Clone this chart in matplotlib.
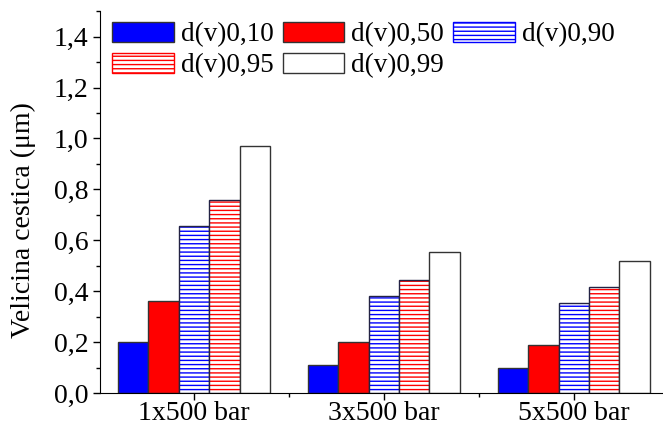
import numpy as np
import matplotlib
matplotlib.use("Agg")
import matplotlib.pyplot as plt
from matplotlib.ticker import FuncFormatter, MultipleLocator, FixedLocator

plt.rcParams['font.family'] = ['Liberation Serif', 'DejaVu Serif']
plt.rcParams['hatch.linewidth'] = 1.0

# data
groups = ['1x500 bar', '3x500 bar', '5x500 bar']
labels = ['d(v)0,10', 'd(v)0,50', 'd(v)0,90', 'd(v)0,95', 'd(v)0,99']
d10 = [0.20, 0.11, 0.10]
d50 = [0.36, 0.20, 0.19]
d90 = [0.655, 0.38, 0.355]
d95 = [0.76, 0.445, 0.418]
d99 = [0.97, 0.555, 0.517]
series = [d10, d50, d90, d95, d99]

# style of each series: (face, hatch colour, hatch)
styles = [('#0000ff', None, None),
          ('#ff0000', None, None),
          ('white', '#0000ff', '----'),
          ('white', '#ff0000', '----'),
          ('white', None, None)]

fs = 20
fig = plt.figure(figsize=(6.63, 4.25), dpi=100)
ax = fig.add_axes([100/663, 1-393/425, 1-100/663, (393-11.25)/425])

x = np.arange(len(groups))
w = 0.16
handles = {}
for i, (vals, lab, (fc, hc, hatch)) in enumerate(zip(series, labels, styles)):
    pos = x + (i - 2) * w
    if hatch:
        ax.bar(pos, vals, w, color=fc, edgecolor=hc, hatch=hatch, linewidth=0)
        ax.bar(pos, vals, w, facecolor='none', edgecolor='#222244', linewidth=1.0)
        h = ax.bar([np.nan], [np.nan], w, facecolor=fc, edgecolor=hc, hatch=hatch,
                   linewidth=1.0)
    else:
        h = ax.bar(pos, vals, w, color=fc, edgecolor='#333333', linewidth=1.0)
    handles[lab] = h

ax.set_xlim(-0.495, 2.47)
ax.set_ylim(0, 1.5)
ax.set_xticks(x)
ax.set_xticklabels(groups, fontsize=fs)
ax.xaxis.set_minor_locator(FixedLocator([0.5, 1.5]))
ax.yaxis.set_major_locator(MultipleLocator(0.2))
ax.yaxis.set_minor_locator(MultipleLocator(0.1))
ax.yaxis.set_major_formatter(FuncFormatter(lambda v, p: f"{v:.1f}".replace('.', ',')))
ax.tick_params(axis='y', labelsize=fs)
ax.tick_params(which='major', direction='out', length=5, width=1)
ax.tick_params(which='minor', direction='out', length=3, width=1)
ax.tick_params(axis='x', pad=1)
ax.spines['top'].set_visible(False)
ax.spines['right'].set_visible(False)
fig.text(23/663, 1-220/425, 'Velicina cestica (μm)', rotation=90,
         ha='center', va='center', fontsize=fs)

# legend filled row by row like the original
order = ['d(v)0,10', 'd(v)0,95', 'd(v)0,50', 'd(v)0,99', 'd(v)0,90']
ax.legend([handles[k] for k in order], order, ncol=3, loc='upper left',
          bbox_to_anchor=(112/663, 1-22/425), bbox_transform=fig.transFigure,
          frameon=False, fontsize=19.5, handlelength=2.28, handleheight=0.77,
          handletextpad=0.25, columnspacing=0.35, labelspacing=0.2,
          borderpad=0, borderaxespad=0)

fig.savefig('out.png', dpi=100)
